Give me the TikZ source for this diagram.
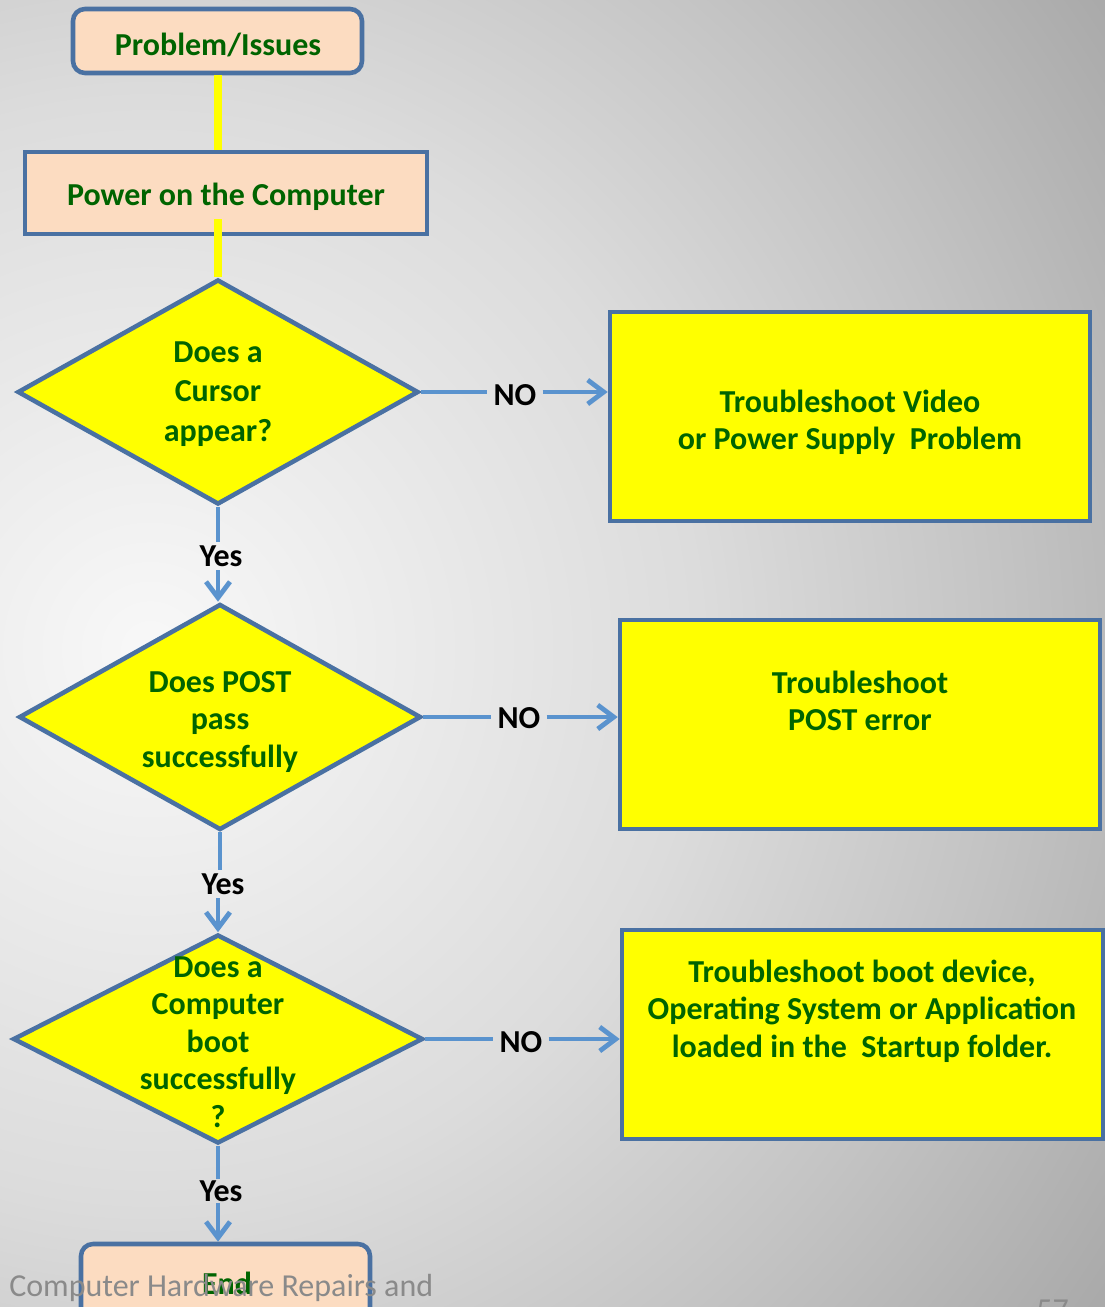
\documentclass[tikz,border=0pt]{standalone}
\usepackage{fontspec}
\setmainfont{Carlito}
\usetikzlibrary{arrows.meta,shapes.geometric}
\definecolor{bordercol}{HTML}{4A71A2}
\definecolor{linecol}{HTML}{5A93CE}
\definecolor{peach}{HTML}{FCDCC1}
\definecolor{txtgreen}{HTML}{006400}
\definecolor{ylw}{HTML}{FFFF00}
\definecolor{bgA}{HTML}{F8F8F8}
\definecolor{bgB}{HTML}{DCDCDC}
\definecolor{bgC}{HTML}{C4C4C4}
\definecolor{bgD}{HTML}{AAAAAA}
\definecolor{bgE}{HTML}{A6A6A6}
\definecolor{footgray}{HTML}{8A8A8A}
% the central 50bp square (25bp radius) is stretched over the circle's bounding box
\pgfdeclareradialshading{bgshade}{\pgfpoint{0bp}{0bp}}{color(0bp)=(bgA); color(11bp)=(bgB); color(17bp)=(bgC); color(23bp)=(bgD); color(25bp)=(bgE); color(50bp)=(bgE)}
\tikzset{
  txt/.style={font=\bfseries\fontsize{24}{28.1}\selectfont, text=txtgreen, align=center, inner sep=0pt},
  lbl/.style={font=\bfseries\fontsize{24}{28}\selectfont, text=black, inner sep=0pt},
  peachbox/.style={draw=bordercol, fill=peach, line width=3.4pt, inner sep=0pt},
  ylwbox/.style={draw=bordercol, fill=ylw, line width=3.4pt, inner sep=0pt},
  decision/.style={diamond, draw=bordercol, fill=ylw, line width=3.4pt, inner sep=0pt},
  yline/.style={draw=ylw, line width=6pt},
  conn/.style={draw=linecol, line width=3.6pt},
  arr/.style={conn, -{Straight Barb[length=12pt, width=18pt]}},
}
\begin{document}
\begin{tikzpicture}[x=0.75pt, y=-0.75pt]
\useasboundingbox (0,0) rectangle (1105,1307);
\begin{scope}
  \clip (0,0) rectangle (1105,1307);
  \shade[shading=bgshade] (150,650) circle (1250);
\end{scope}

% boxes
\node[peachbox, rounded corners=9pt, minimum width=216.75pt, minimum height=48pt] (prob) at (217.5,41) {};
\node[txt] at (218,45) {Problem/Issues};
\node[peachbox, minimum width=301.5pt, minimum height=61.5pt] (power) at (226,193) {};
\node[txt] at (226,197) {Power on the Computer};

% decisions
\node[decision, minimum width=300.75pt, minimum height=168.75pt] (d1) at (218,392) {};
\node[decision, minimum width=301.5pt, minimum height=169.5pt] (d2) at (220,717) {};
\node[decision, minimum width=307.5pt, minimum height=156.75pt] (d3) at (218,1039) {};

% yellow connectors
\draw[yline] (prob.south) -- (power.north -| prob.south);
\draw[yline] ([yshift=12.75pt]d1.north |- power.south) -- (d1.north);

\node[txt, font=\bfseries\fontsize{24}{29.6}\selectfont] at (218,394) {Does a\\Cursor\\appear?};
\node[txt] at (220,722) {Does POST\\pass\\successfully};
\node[txt] at (218,1042) {Does a\\Computer\\boot\\successfully\\?};

% action boxes
\node[ylwbox, minimum width=360pt, minimum height=156.75pt] (b1) at (850,416.5) {};
\node[txt] at (850,422.5) {Troubleshoot Video\\or Power Supply\ \ Problem};
\node[ylwbox, minimum width=360pt, minimum height=156.75pt] (b2) at (860,724.5) {};
\node[txt] at (860,701) {Troubleshoot\\POST error};
\node[ylwbox, minimum width=360.75pt, minimum height=156.75pt] (b3) at (862.5,1034.5) {};
\node[txt] at (862,1011) {Troubleshoot boot device,\\Operating System or Application\\loaded in the\ \ Startup folder.};

% NO labels and arrows
\node[lbl, inner xsep=4.5pt] (no1) at (515,395) {NO};
\node[lbl, inner xsep=4.5pt] (no2) at (519,718) {NO};
\node[lbl, inner xsep=4.5pt] (no3) at (521,1042) {NO};
\draw[conn] (d1.east) -- (d1.east -| no1.west);
\draw[arr] (no1.east |- d1.east) -- (d1.east -| b1.west);
\draw[conn] (d2.east) -- (d2.east -| no2.west);
\draw[arr] (no2.east |- d2.east) -- (d2.east -| b2.west);
\draw[conn] (d3.east) -- (d3.east -| no3.west);
\draw[arr] (no3.east |- d3.east) -- (d3.east -| b3.west);

% end box
\node[peachbox, rounded corners=9pt, minimum width=216.75pt, minimum height=57pt] (endb) at (225.5,1282) {};
\node[txt] at (227,1283) {End};

% Yes labels and arrows
\node[lbl, minimum height=21pt] (yes1) at (221,556) {Yes};
\node[lbl, minimum height=21pt] (yes2) at (223,884) {Yes};
\node[lbl, minimum height=18pt] (yes3) at (221,1191) {Yes};
\draw[conn] (d1.south) -- (yes1.north -| d1.south);
\draw[arr] (yes1.south -| d1.south) -- (d2.north -| d1.south);
\draw[conn] (d2.south) -- (yes2.north -| d2.south);
\draw[arr] (yes2.south -| d3.north) -- (d3.north);
\draw[conn] (d3.south) -- (yes3.north -| d3.south);
\draw[arr] (yes3.south -| d3.south) -- (endb.north -| d3.south);

% footer
\node[font=\fontsize{24}{28}\selectfont, text=footgray, anchor=base west, inner sep=0pt] (foot) at (9,1296) {Computer Hardware Repairs and};
\node[font=\fontsize{24}{28}\selectfont, text=footgray, anchor=base west, inner sep=0pt] (page) at (1036,1320) {57};
\end{tikzpicture}
\end{document}
